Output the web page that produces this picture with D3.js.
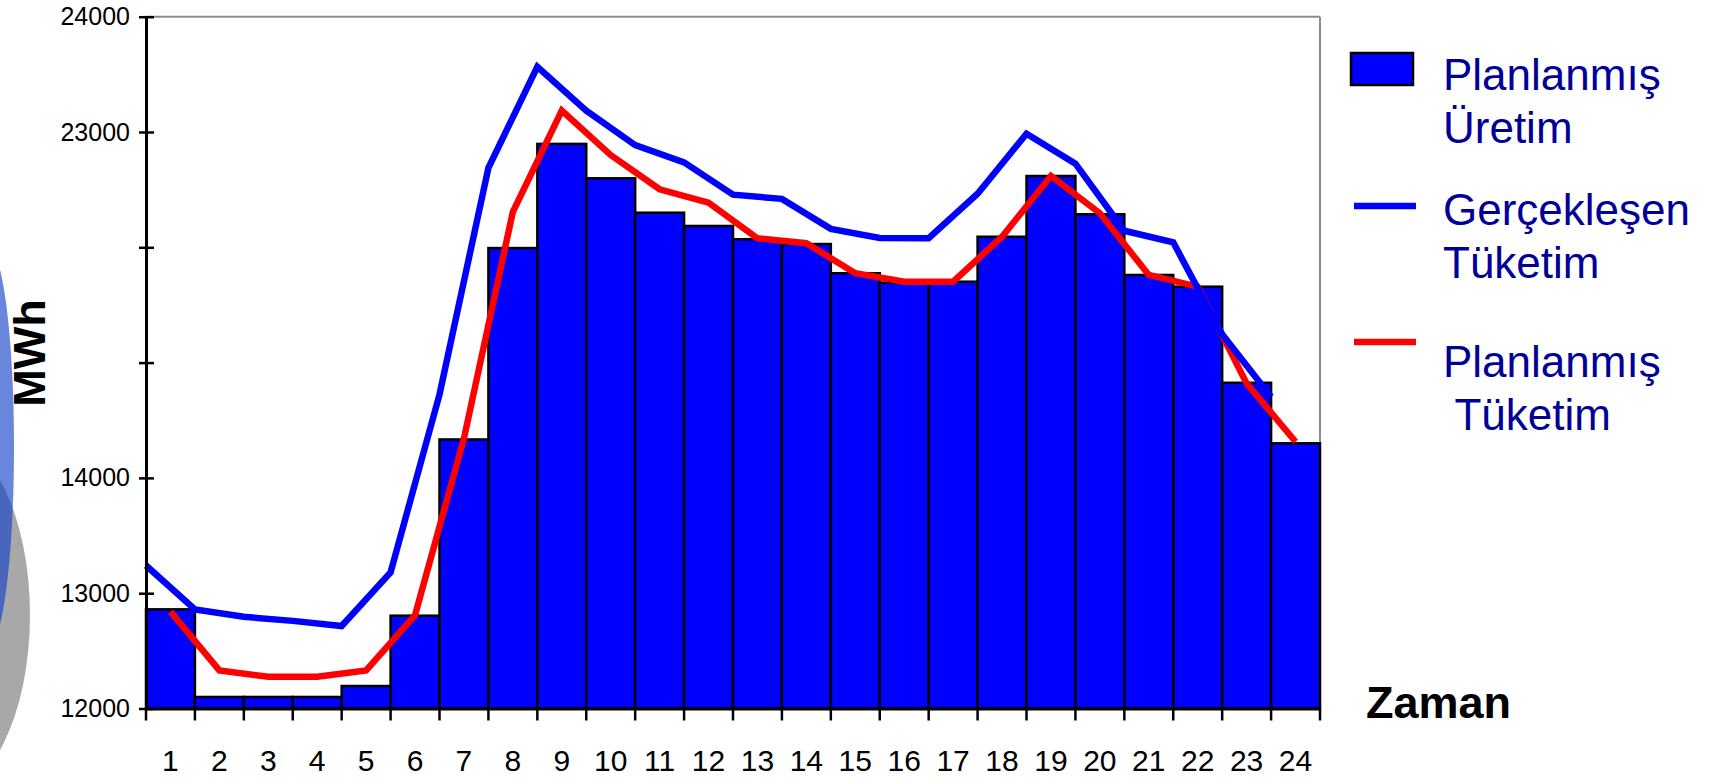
<!DOCTYPE html>
<html>
<head>
<meta charset="utf-8">
<script src="https://cdn.jsdelivr.net/npm/d3@7"></script>
<style>
  html, body { margin: 0; padding: 0; background: #ffffff; }
  svg { display: block; }
  text { font-family: "Liberation Sans", Arial, Helvetica, sans-serif; }
</style>
</head>
<body>
<svg id="chart" width="1717" height="781"></svg>
<script>
// ---------------- DATA ----------------
const hours = d3.range(1, 25);
// Planlanmış Üretim (bars)
const plannedProduction = [12860, 12100, 12100, 12100, 12195, 12805, 15000, 19980, 22690, 21795, 20900, 20555,
                           20210, 20085, 19325, 19080, 19105, 20275, 21855, 20860, 19280, 18975, 16475, 14900];
// Gerçekleşen Tüketim (blue line)
const actualConsumption = [13240, 12860, 12795, 12760, 12715, 13180, 16170, 22070, 23565, 23185, 22660, 22210,
                           21370, 21260, 20480, 20245, 20235, 21395, 22955, 22175, 20430, 20130, 17735, 16110];
// Planlanmış Tüketim (red line)
const plannedConsumption = [12840, 12330, 12275, 12275, 12330, 12810, 15030, 20925, 23185, 22400, 21510, 21160,
                            20235, 20105, 19325, 19105, 19105, 20275, 21855, 20885, 19280, 18975, 16460, 14940];
// Y axis ticks (as printed on the chart)
const yTickValues = [12000, 13000, 14000, 17000, 20000, 23000, 24000];
const yTickLabels = ["12000", "13000", "14000", "", "", "23000", "24000"];
const legendItems = [
  { type: "bar",  color: "#0000ff", lines: ["Planlanmış", "Üretim"] },
  { type: "line", color: "#0000ff", lines: ["Gerçekleşen", "Tüketim"] },
  { type: "line", color: "#ff0000", lines: ["Planlanmış", " Tüketim"] }
];
const xTitle = "Zaman";
const yTitle = "MWh";

// ---------------- LAYOUT ----------------
const svg = d3.select("#chart");
const pLeft = 146, pRight = 1320, pTop = 16.7, pBottom = 708.5;

// background decorations (slide ornaments on the left edge)
svg.append("ellipse").attr("cx", -58.6).attr("cy", 615).attr("rx", 88.6).attr("ry", 180)
   .attr("fill", "#a8a8a8");
svg.append("ellipse").attr("cx", -12).attr("cy", 447).attr("rx", 26).attr("ry", 200)
   .attr("fill", "rgb(18,64,201)").attr("fill-opacity", 0.63);

// scales
const x = d3.scaleBand().domain(hours).range([pLeft, pRight]).paddingInner(0).paddingOuter(0);
const yStep = (pBottom - pTop) / (yTickValues.length - 1);
const y = d3.scaleLinear().domain(yTickValues).range(yTickValues.map((d, i) => pBottom - i * yStep));
const bw = x.bandwidth();

// frame (gray top & right)
svg.append("line").attr("x1", pLeft).attr("x2", pRight).attr("y1", pTop).attr("y2", pTop)
   .attr("stroke", "#8c8c8c").attr("stroke-width", 2);
svg.append("line").attr("x1", pRight).attr("x2", pRight).attr("y1", pTop).attr("y2", pBottom)
   .attr("stroke", "#8c8c8c").attr("stroke-width", 2);

// bars
svg.append("g").selectAll("rect").data(plannedProduction).join("rect")
   .attr("x", (d, i) => x(hours[i]))
   .attr("y", d => y(d))
   .attr("width", bw)
   .attr("height", d => y(12000) - y(d))
   .attr("fill", "#0000ff")
   .attr("stroke", "#000000")
   .attr("stroke-width", 2.5);

// lines
const redLine = d3.line().x((d, i) => x(hours[i]) + bw / 2).y(d => y(d));
const blueLine = d3.line().x((d, i) => x(hours[i])).y(d => y(d));
svg.append("path").attr("d", redLine(plannedConsumption))
   .attr("fill", "none").attr("stroke", "#ff0000").attr("stroke-width", 6.5)
   .attr("stroke-linejoin", "miter").attr("stroke-linecap", "butt");
svg.append("path").attr("d", blueLine(actualConsumption))
   .attr("fill", "none").attr("stroke", "#0000ff").attr("stroke-width", 6.5)
   .attr("stroke-linejoin", "miter").attr("stroke-linecap", "butt");

// Y axis
const yAxis = d3.axisLeft(y).tickValues(yTickValues)
   .tickFormat((d, i) => yTickLabels[i]).tickSizeInner(7).tickSizeOuter(0).tickPadding(9);
const gy = svg.append("g").attr("transform", `translate(${pLeft},0)`).call(yAxis);
gy.select(".domain").attr("stroke", "#000").attr("stroke-width", 3);
gy.selectAll(".tick line").attr("x1", 8).attr("stroke", "#000").attr("stroke-width", 2.5);
gy.selectAll(".tick text").attr("font-size", 25).attr("fill", "#000")
   .style("font-family", "'Liberation Sans', Arial, sans-serif");

// X axis : labels centered in bands
const xAxis = d3.axisBottom(x).tickSize(0).tickPadding(41).tickSizeOuter(0);
const gx = svg.append("g").attr("transform", `translate(0,${pBottom})`).call(xAxis);
gx.select(".domain").attr("stroke", "#000").attr("stroke-width", 3);
gx.selectAll(".tick text").attr("font-size", 30).attr("fill", "#000")
   .style("font-family", "'Liberation Sans', Arial, sans-serif");
// x ticks at band boundaries
const edges = hours.map(h => x(h)).concat([x(24) + bw]);
svg.append("g").selectAll("line").data(edges).join("line")
   .attr("x1", d => d).attr("x2", d => d)
   .attr("y1", pBottom).attr("y2", pBottom + 12)
   .attr("stroke", "#000").attr("stroke-width", 2.5);

// axis titles
svg.append("text").text(xTitle).attr("x", 1366).attr("y", 718)
   .attr("font-size", 45).attr("font-weight", "bold").attr("fill", "#000");
svg.append("text").text(yTitle)
   .attr("transform", "translate(45,353) rotate(-90)")
   .attr("text-anchor", "middle")
   .attr("font-size", 45).attr("font-weight", "bold").attr("fill", "#000");

// legend
const legendTop = [53, 206, 342];
const textBase = [90, 225, 377];
const lg = svg.append("g");
legendItems.forEach((item, k) => {
  if (item.type === "bar") {
    lg.append("rect").attr("x", 1351).attr("y", legendTop[k]).attr("width", 62).attr("height", 32)
      .attr("fill", item.color).attr("stroke", "#000").attr("stroke-width", 2.5);
  } else {
    lg.append("line").attr("x1", 1354).attr("x2", 1416).attr("y1", legendTop[k]).attr("y2", legendTop[k])
      .attr("stroke", item.color).attr("stroke-width", 6.5);
  }
  const t = lg.append("text").attr("x", 1443).attr("y", textBase[k])
      .attr("font-size", 44).attr("fill", "#000099").attr("xml:space", "preserve")
      .style("white-space", "pre");
  item.lines.forEach((ln, j) => {
    t.append("tspan").attr("x", 1443).attr("dy", j === 0 ? 0 : 53).text(ln);
  });
});
</script>
</body>
</html>
